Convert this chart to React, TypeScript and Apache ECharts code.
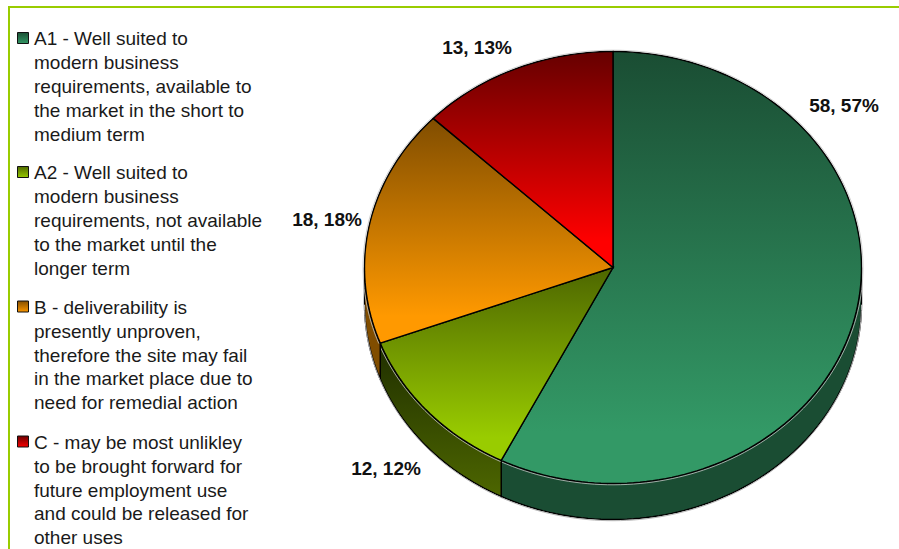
import React, { useEffect, useRef } from "react";
import * as echarts from "echarts";

const categories = [
  "A1 - Well suited to\nmodern business\nrequirements, available to\nthe market in the short to\nmedium term",
  "A2 - Well suited to\nmodern business\nrequirements, not available\nto the market until the\nlonger term",
  "B - deliverability is\npresently unproven,\ntherefore the site may fail\nin the market place due to\nneed for remedial action",
  "C - may be most unlikley\nto be brought forward for\nfuture employment use\nand could be released for\nother uses",
];
const values = [58, 12, 18, 13];
const topDark = ["#1a4d33", "#4d6600", "#804d00", "#660000"];
const topLight = ["#339966", "#99cc00", "#ff9900", "#ff0000"];
const sideDark = ["#1a4d33", "#1f2e00", "#804d00", "#4d0000"];
const sideLight = ["#1a4d33", "#4d6600", "#804d00", "#800000"];
const labelCenters = [[844, 105], [386, 468], [327, 219], [477, 47]];
const legendYs = [37, 171, 305.5, 440.5];

const CX = 613, CY = 267.5, RX = 248.5, RY = 216, DEPTH = 36;
const total = values.reduce((a, b) => a + b, 0);
const pt = (t: number, dy = 0) => [CX + RX * Math.sin(t), CY - RY * Math.cos(t) + dy];
const arc = (a: number, b: number, dy = 0) => {
  const n = Math.max(2, Math.ceil(((b - a) / (Math.PI * 2)) * 240));
  const out: number[][] = [];
  for (let i = 0; i <= n; i++) out.push(pt(a + ((b - a) * i) / n, dy));
  return out;
};
const vGrad = (c0: string, c1: string, y0: number, y1: number, end = 1) =>
  new echarts.graphic.LinearGradient(0, y0, 0, y1, [
    { offset: 0, color: c0 },
    { offset: end, color: c1 },
    { offset: 1, color: c1 },
  ], true);

function renderSlice(_: any, api: any) {
  const i = api.value(0) as number;
  let acc = 0;
  for (let k = 0; k < i; k++) acc += values[k];
  const a = (acc / total) * Math.PI * 2;
  const b = ((acc + values[i]) / total) * Math.PI * 2;
  const children: any[] = [];
  // Side wall: only the front half of the rim (90deg..270deg clockwise from top)
  const s0 = Math.max(a, Math.PI / 2), s1 = Math.min(b, (3 * Math.PI) / 2);
  if (s1 > s0) {
    const upper = arc(s0, s1);
    const lower = arc(s0, s1, DEPTH).reverse();
    const ys = upper.concat(lower).map((p) => p[1]);
    children.push({
      type: "polygon",
      shape: { points: upper.concat(lower) },
      style: {
        fill: vGrad(sideDark[i], sideLight[i], Math.min(...ys), Math.max(...ys)),
        stroke: "#000",
        lineWidth: 1.4,
      },
    });
    children.push({
      type: "polyline",
      shape: { points: arc(s0, s1, DEPTH + 1.2) },
      style: { fill: "none", stroke: "#b5b5b5", lineWidth: 1 },
    });
  }
  const rim = arc(a, b);
  const pts = [[CX, CY]].concat(rim);
  const ys = pts.map((p) => p[1]);
  children.push({
    type: "polygon",
    shape: { points: pts },
    style: {
      fill: vGrad(topDark[i], topLight[i], Math.min(...ys), Math.max(...ys), 0.88),
      stroke: "#000",
      lineWidth: 1.4,
    },
  });
  children.push({
    type: "polyline",
    shape: { points: arc(a, b, 0).map((p) => [CX + (p[0] - CX) * 1.006, CY + (p[1] - CY) * 1.006]) },
    style: { fill: "none", stroke: "#c4c4c4", lineWidth: 0.8 },
    silent: true,
  });
  const pct = Math.round((values[i] / total) * 100);
  children.push({
    type: "text",
    style: {
      x: labelCenters[i][0],
      y: labelCenters[i][1],
      text: `${values[i]}, ${pct}%`,
      fill: "#111",
      font: 'bold 19px "Liberation Sans", Arial, sans-serif',
      align: "center",
      verticalAlign: "middle",
    },
  });
  return { type: "group", children };
}

export default function App() {
  const ref = useRef<HTMLDivElement>(null);
  useEffect(() => {
    const chart = echarts.init(ref.current!, undefined, { renderer: "svg" });
    const legend: any[] = [];
    categories.forEach((text, i) => {
      legend.push({
        type: "rect",
        shape: { x: 17.5, y: legendYs[i] - 4.5, width: 11, height: 11 },
        style: {
          fill: vGrad(topDark[i], topLight[i], legendYs[i] - 5, legendYs[i] + 7),
          stroke: "#111",
          lineWidth: 1,
        },
      });
      legend.push({
        type: "text",
        x: 34,
        y: legendYs[i] - 10,
        style: {
          text,
          font: '19px "Liberation Sans", Arial, sans-serif',
          lineHeight: 23.8,
          fill: "#1a1a1a",
          align: "left",
          verticalAlign: "top",
        },
      });
    });
    chart.setOption({
      animation: false,
      backgroundColor: "#fff",
      graphic: [
        { type: "line", shape: { x1: 8, y1: 7, x2: 899, y2: 7 }, style: { stroke: "#99cc00", lineWidth: 2 } },
        { type: "line", shape: { x1: 9, y1: 6, x2: 9, y2: 549 }, style: { stroke: "#99cc00", lineWidth: 2 } },
        ...legend,
      ],
      series: [
        {
          type: "custom",
          coordinateSystem: "none",
          renderItem: renderSlice,
          data: values.map((v, i) => [i, v]),
          silent: true,
        },
      ],
    });
    return () => chart.dispose();
  }, []);
  return <div ref={ref} style={{ position: "fixed", left: 0, top: 0, width: 899, height: 549 }} />;
}
